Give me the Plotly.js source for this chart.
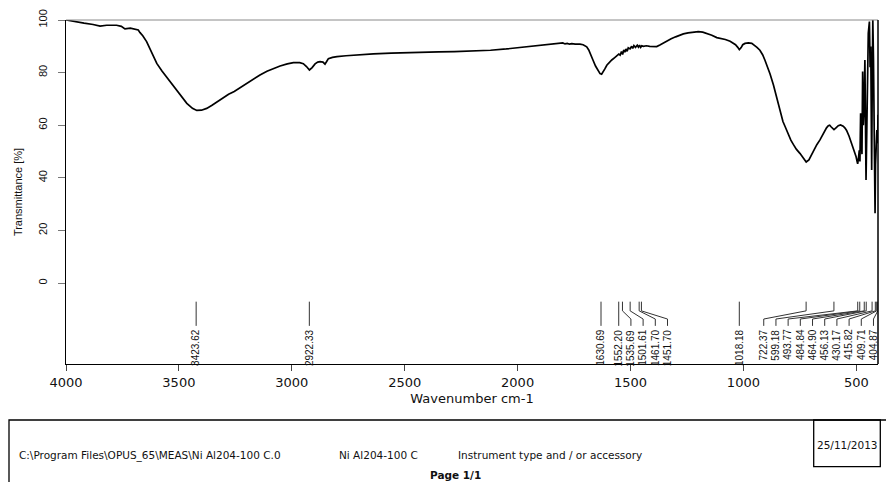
<!DOCTYPE html>
<html>
<head>
<meta charset="utf-8">
<script src="https://cdn.plot.ly/plotly-3.0.1.min.js"></script>
<style>html,body{margin:0;padding:0;background:#fff;}#chart{width:886px;height:482px;}</style>
</head>
<body>
<div id="chart"></div>
<script>
// ---- Data ----
const wavenumber = [4000,3960,3920,3880,3849,3820,3790,3776,3755,3739,3715,3695,3680,3672,3660,3643,3620,3598,3575,3550,3525,3495,3465,3440,3421,3400,3377,3355,3330,3303,3280,3255,3229,3200,3170,3141,3110,3080,3052,3020,2993,2965,2949,2935,2922,2910,2897,2885,2875,2862,2853,2845,2838,2820,2800,2760,2700,2639,2560,2500,2432,2350,2280,2200,2120,2050,1980,1920,1870,1840,1820,1812,1800,1790,1780,1770,1760,1745,1735,1724,1710,1700,1694,1685,1675,1665,1655,1645,1635,1628,1620,1613,1605,1595,1583,1570,1560,1552,1546,1540,1535,1530,1525,1520,1515,1510,1502,1495,1490,1485,1478,1470,1465,1460,1455,1450,1443,1430,1415,1400,1384,1370,1355,1340,1320,1300,1280,1266,1245,1225,1200,1180,1160,1140,1118,1100,1080,1059,1045,1035,1025,1018,1010,1003,993,978,963,950,940,927,915,905,895,882,867,853,845,838,825,815,808,797,790,779,765,749,735,722,710,700,690,675,661,650,640,632,624,618,612,605,599,590,580,570,565,558,550,543,532,521,510,501,497,494,490,487,484,481,478,475,472,469,466,462,457,454,451,447,442,439,436,432,430,427,424,421,417,415,412,409,406,404];
const transmittance = [100,99.3,98.8,98.3,97.7,98.0,97.9,98.0,97.6,96.6,96.9,96.6,96.2,95.2,94.0,91.8,87.8,83.5,80.6,77.8,74.6,71.2,68.3,66.4,65.6,65.7,66.4,67.5,69.0,70.6,71.8,72.8,74.2,76.0,77.7,79.1,80.5,81.6,82.5,83.3,83.8,83.8,83.4,82.3,81.0,81.9,83.3,84.0,84.2,84.0,83.2,84.3,85.3,85.8,86.1,86.4,86.8,87.1,87.4,87.6,87.7,87.9,88.0,88.2,88.5,89.0,89.6,90.2,90.6,90.9,91.2,91.0,91.3,90.9,91.1,90.8,91.0,90.8,90.9,90.8,90.6,90.2,89.8,88.6,86.8,84.5,82.5,80.8,79.6,79.4,80.3,81.5,82.8,83.8,84.8,85.7,86.3,87.0,86.6,88.0,86.9,88.6,87.8,89.0,88.1,89.4,89.0,90.0,89.2,90.3,89.6,90.4,89.7,90.4,89.6,90.2,90.0,90.2,90.0,89.9,89.9,90.5,91.3,92.1,92.9,93.6,94.3,94.7,95.1,95.4,95.6,95.4,94.9,94.2,93.3,93.0,92.6,91.9,91.3,90.6,89.6,88.7,89.5,90.6,91.1,91.3,91.1,90.3,89.6,88.5,86.8,84.8,82.6,79.5,75.3,70.6,67.8,65.3,61.4,59.4,57.9,55.5,54.3,52.7,50.8,49.2,47.3,46.0,46.8,48.6,50.5,52.6,54.4,56.2,57.8,59.0,59.8,60.0,59.4,58.6,58.3,59.0,59.8,60.1,60.0,59.6,58.9,58.0,55.8,53.2,50.6,48.0,46.4,45.3,47.8,50.4,46.2,64.5,55.0,49.0,80.4,60.0,65.8,84.8,39.2,60.0,74.6,94.9,99.4,82.0,89.9,43.0,70.0,100,85.0,53.1,26.5,45.0,56.0,58.2,53.1,64.0];
const peakPositions = [3423.62,2922.33,1630.69,1552.20,1535.69,1501.61,1461.70,1451.70,1018.18,722.37,599.18,493.77,484.84,464.90,456.13,430.17,415.82,409.71,404.87];
const xTickValues = [4000,3500,3000,2500,2000,1500,1000,500];
const yTickValues = [0,20,40,60,80,100];
const footerPath = "C:\\Program Files\\OPUS_65\\MEAS\\Ni Al204-100 C.0";
const footerSample = "Ni Al204-100 C";
const footerInstrument = "Instrument type and / or accessory";
const footerDate = "25/11/2013";
const footerPage = "Page 1/1";

// ---- Geometry (pixels of the 886x482 page) ----
const W = 886, H = 482;
const M = {l: 66, r: 8, t: 20, b: 118};
const plotW = W - M.l - M.r, plotH = H - M.t - M.b;
const px = x => (x - M.l) / plotW;          // pixel -> paper x
const py = y => (H - M.b - y) / plotH;      // pixel -> paper y

// ---- Peak label layout: spread labels so they do not overlap ----
const labelGap = 54, labelMin = 424;
const labelPos = peakPositions.slice();
for (let i = 1; i < labelPos.length; i++) labelPos[i] = Math.min(peakPositions[i], labelPos[i-1] - labelGap);
labelPos[labelPos.length-1] = Math.max(labelPos[labelPos.length-1], labelMin);
for (let i = labelPos.length - 2; i >= 0; i--) labelPos[i] = Math.max(labelPos[i], labelPos[i+1] + labelGap);

const yTop = -7.1, yBend1 = -10.6, yBend2 = -13.7, yEnd = -16.3, yText = -17.2;
const lx = [], ly = [];
peakPositions.forEach((p, i) => {
  lx.push(p, p, labelPos[i], labelPos[i], null);
  ly.push(yTop, yBend1, yBend2, yEnd, null);
});

const traces = [
  {x: wavenumber, y: transmittance, type: 'scatter', mode: 'lines',
   line: {color: '#000', width: 1.7}, hoverinfo: 'skip', showlegend: false},
  {x: lx, y: ly, type: 'scatter', mode: 'lines',
   line: {color: '#333', width: 1}, hoverinfo: 'skip', showlegend: false, connectgaps: false}
];

const annotations = peakPositions.map((p, i) => ({
  x: labelPos[i], y: yText, xref: 'x', yref: 'y',
  text: p.toFixed(2), textangle: -90, showarrow: false,
  xanchor: 'center', yanchor: 'top', borderpad: 0,
  font: {family: 'Liberation Sans Narrow, Arial Narrow, sans-serif', size: 10, color: '#111'}
}));

const footFont = {family: 'DejaVu Sans, sans-serif', size: 10.5, color: '#111'};
annotations.push(
  {x: px(17), y: py(455), xref: 'paper', yref: 'paper', text: footerPath, showarrow: false, xanchor: 'left', yanchor: 'middle', font: footFont},
  {x: px(337), y: py(455), xref: 'paper', yref: 'paper', text: footerSample, showarrow: false, xanchor: 'left', yanchor: 'middle', font: footFont},
  {x: px(456), y: py(455), xref: 'paper', yref: 'paper', text: footerInstrument, showarrow: false, xanchor: 'left', yanchor: 'middle', font: footFont},
  {x: px(847), y: py(445), xref: 'paper', yref: 'paper', text: footerDate, showarrow: false, xanchor: 'center', yanchor: 'middle', font: footFont},
  {x: px(455), y: py(475), xref: 'paper', yref: 'paper', text: '<b>' + footerPage + '</b>', showarrow: false, xanchor: 'center', yanchor: 'middle', borderpad: 0, font: {family: 'DejaVu Sans, sans-serif', size: 10.5, color: '#111'}}
);

const shapes = [
  {type: 'line', xref: 'paper', yref: 'paper', x0: 0, x1: 1, y0: 1, y1: 1, line: {color: '#8a8a8a', width: 1}},
  {type: 'line', xref: 'paper', yref: 'paper', x0: 1, x1: 1, y0: 0, y1: 1, line: {color: '#000', width: 1.5}},
  {type: 'rect', xref: 'paper', yref: 'paper', x0: px(9), x1: px(895), y0: py(420), y1: py(500), line: {color: '#000', width: 1.3}},
  {type: 'rect', xref: 'paper', yref: 'paper', x0: px(813.7), x1: px(880.3), y0: py(420), y1: py(466.7), line: {color: '#000', width: 1.3}}
];

const layout = {
  width: W, height: H,
  margin: M,
  paper_bgcolor: '#fff', plot_bgcolor: '#fff',
  showlegend: false,
  xaxis: {
    range: [4000, 404], tickvals: xTickValues, ticktext: xTickValues.map(String),
    ticks: 'outside', ticklen: 6, tickcolor: '#444', tickwidth: 1,
    showline: true, linecolor: '#000', linewidth: 1.3, showgrid: false, zeroline: false,
    tickfont: {family: 'DejaVu Sans, sans-serif', size: 13, color: '#111'},
    title: {text: 'Wavenumber cm-1', font: {family: 'DejaVu Sans, sans-serif', size: 13, color: '#111'}, standoff: 5}
  },
  yaxis: {
    range: [-30.8, 100], tickvals: yTickValues, ticktext: yTickValues.map(String),
    ticks: 'outside', ticklen: 7, tickcolor: '#777', tickwidth: 1, tickangle: -90,
    ticklabelstandoff: 6,
    showline: true, linecolor: '#000', linewidth: 1.3, showgrid: false, zeroline: false,
    tickfont: {family: 'Liberation Sans, Arial, sans-serif', size: 11, color: '#111'},
    title: {text: 'Transmittance [%]', font: {family: 'Liberation Sans, Arial, sans-serif', size: 11, color: '#111'}, standoff: 12}
  },
  shapes: shapes,
  annotations: annotations
};

Plotly.newPlot('chart', traces, layout, {staticPlot: true, displayModeBar: false});
</script>
</body>
</html>
